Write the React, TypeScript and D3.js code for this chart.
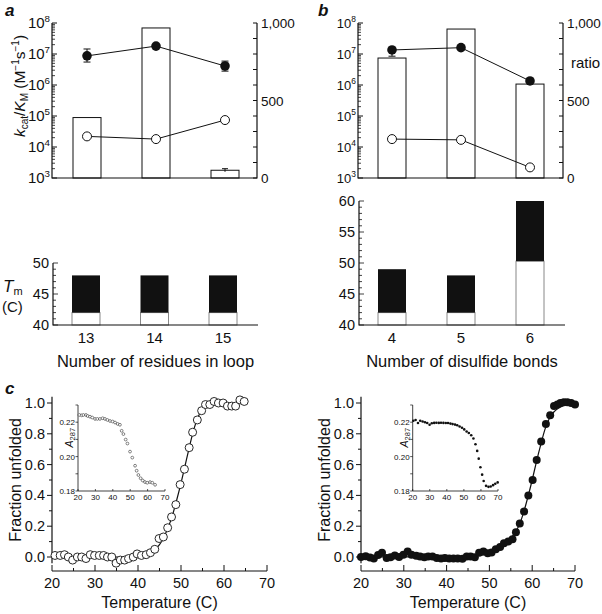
import React from "react";
import * as d3 from "d3";

const FONT = "'Liberation Sans', Arial, Helvetica, sans-serif";

// ---------- Panel a (loop length) ----------
const loopCategories = ["13", "14", "15"];
const loopRatio = [390, 968, 50];
const loopRatioErr = [0, 0, 10];
const loopKcatFilled = [8.7e6, 1.8e7, 4.1e6];
const loopKcatFilledLo = [5.5e6, 1.8e7, 2.8e6];
const loopKcatFilledHi = [1.45e7, 1.8e7, 5.9e6];
const loopKcatOpen = [2.2e4, 1.8e4, 7.4e4];
const loopTmLow = [42, 42, 42];
const loopTmHigh = [48, 48, 48];

// ---------- Panel b (disulfide bonds) ----------
const ssCategories = ["4", "5", "6"];
const ssRatio = [774, 961, 606];
const ssKcatFilled = [1.35e7, 1.6e7, 1.35e6];
const ssKcatFilledLo = [8.5e6, 1.6e7, 1.2e6];
const ssKcatFilledHi = [1.35e7, 1.6e7, 1.35e6];
const ssKcatOpen = [1.8e4, 1.7e4, 2.2e3];
const ssTmLow = [42, 42, 50.3];
const ssTmHigh = [49, 48, 60];

// ---------- Tick labels ----------
const logTickExps = [3, 4, 5, 6, 7, 8];
const ratioTickLabels = [0, 500, 1000];
const tmTicksA = [40, 45, 50];
const tmTicksB = [40, 45, 50, 55, 60];
const fracTicks = [0, 0.2, 0.4, 0.6, 0.8, 1.0];
const tempTicks = [20, 30, 40, 50, 60, 70];
const insetYTicks = [0.18, 0.2, 0.22];
const insetXTicks = [20, 30, 40, 50, 60, 70];

// ---------- Panel c, left (open circles) ----------
const leftTemp = [20.7, 21.9, 22.9, 23.8, 24.8, 25.9, 26.9, 27.9, 28.9, 29.9, 31.0, 32.0, 32.9, 33.9, 34.9, 35.9, 36.9, 37.8, 38.9, 39.8, 40.8, 41.9, 42.9, 43.9, 44.9, 45.9, 46.9, 47.8, 48.8, 49.8, 50.8, 51.9, 52.7, 53.8, 54.8, 55.7, 56.7, 57.7, 58.7, 59.8, 60.8, 61.8, 62.7, 63.7, 64.7];
const leftFrac = [0.01, 0.01, 0.015, 0.0, -0.02, 0.0, 0.0, -0.01, 0.015, 0.01, 0.01, 0.01, 0.0, 0.0, -0.04, -0.02, -0.02, -0.01, 0.0, 0.02, 0.01, 0.015, 0.028, 0.05, 0.12, 0.13, 0.19, 0.26, 0.34, 0.47, 0.57, 0.71, 0.81, 0.89, 0.95, 0.99, 0.99, 1.01, 1.0, 1.0, 0.98, 0.98, 0.98, 1.02, 1.01];
const leftFitTemp = [20, 38, 41, 43, 44, 45, 46, 47, 48, 49, 50, 51, 52, 53, 54, 55, 56, 57, 63.5];
const leftFitFrac = [0, 0, 0.01, 0.03, 0.05, 0.08, 0.13, 0.19, 0.27, 0.37, 0.48, 0.6, 0.72, 0.83, 0.91, 0.96, 0.985, 0.995, 1.0];
const leftInsetTemp = [20.8, 22.1, 23.1, 24.6, 25.6, 26.9, 28.2, 29.8, 31.1, 32.6, 34.2, 35.5, 36.9, 38.4, 39.9, 41.3, 42.8, 44.1, 45.1, 46.1, 47.4, 48.4, 49.9, 51.2, 52.8, 53.7, 54.7, 56.0, 57.2, 58.5, 59.8, 61.4, 62.7, 64.3];
const leftInsetA = [0.2242, 0.224, 0.2242, 0.2242, 0.2236, 0.2232, 0.2227, 0.2219, 0.2219, 0.2219, 0.2223, 0.2219, 0.2213, 0.2207, 0.2204, 0.2198, 0.219, 0.2185, 0.215, 0.2131, 0.2099, 0.2076, 0.2029, 0.1994, 0.1947, 0.1918, 0.1893, 0.1874, 0.1861, 0.1852, 0.1848, 0.1852, 0.1848, 0.1836];

// ---------- Panel c, right (filled circles) ----------
const rightTemp = [20.0, 21.1, 22.1, 23.0, 24.0, 24.9, 26.0, 26.9, 27.9, 28.9, 29.9, 30.9, 31.8, 32.9, 33.8, 34.8, 35.7, 36.7, 37.7, 38.7, 39.6, 40.6, 41.6, 42.6, 43.7, 44.7, 45.6, 46.6, 47.6, 48.6, 49.6, 50.5, 51.5, 52.5, 53.4, 54.4, 55.4, 56.2, 57.1, 58.1, 59.1, 60.1, 61.05, 62.1, 63.2, 64.2, 65.1, 65.9, 66.6, 67.4, 68.2, 69.1, 70.0];
const rightFrac = [0.0, 0.005, -0.003, -0.01, 0.013, 0.028, -0.006, -0.002, 0.01, 0.0, 0.015, 0.035, 0.015, 0.008, 0.004, -0.002, 0.004, 0.004, -0.006, -0.01, -0.006, -0.01, -0.01, -0.01, -0.012, 0.004, 0.004, -0.002, 0.028, 0.035, 0.024, 0.03, 0.05, 0.065, 0.09, 0.1, 0.115, 0.16, 0.218, 0.296, 0.4, 0.5, 0.63, 0.75, 0.864, 0.92, 0.98, 0.99, 1.0, 1.005, 1.005, 1.0, 0.99];
const rightFitTemp = [20, 45, 48, 50, 52, 54, 55, 56, 57, 58, 59, 60, 61, 62, 63, 64, 65, 66, 67, 68, 70];
const rightFitFrac = [0, 0.003, 0.012, 0.025, 0.05, 0.09, 0.12, 0.16, 0.21, 0.29, 0.39, 0.5, 0.62, 0.73, 0.83, 0.9, 0.94, 0.965, 0.98, 0.99, 0.995];
const rightInsetTemp = [20.4, 21.7, 23.1, 24.4, 25.8, 27.2, 28.5, 29.9, 31.2, 32.6, 33.9, 35.3, 36.6, 38.0, 39.4, 40.7, 42.1, 43.4, 44.8, 46.1, 47.5, 48.9, 50.2, 51.6, 52.9, 54.3, 55.6, 56.8, 57.8, 58.7, 59.7, 60.7, 61.6, 63.0, 64.4, 65.7, 67.1, 68.4, 69.8];
const rightInsetA = [0.2208, 0.2213, 0.2195, 0.2208, 0.2204, 0.22, 0.2195, 0.2185, 0.2194, 0.2196, 0.2197, 0.2196, 0.2197, 0.2196, 0.2195, 0.2195, 0.2192, 0.2189, 0.2186, 0.2182, 0.2175, 0.2168, 0.2158, 0.2146, 0.2137, 0.2124, 0.2105, 0.2072, 0.2033, 0.1988, 0.1938, 0.1895, 0.1858, 0.183, 0.1824, 0.1826, 0.1834, 0.1842, 0.185];

// ================= components =================
function TopPanel(p: any) {
  const { cats, ratio, ratioErr, filled, filledLo, filledHi, open, ax0, ax1, c0, c1, leftFont, rightFont } = p;
  const yLog = d3.scaleLog().domain([1e3, 1e8]).range([178, 23]);
  const yR = d3.scaleLinear().domain([0, 1000]).range([178, 23]);
  const x = d3.scalePoint<string>().domain(cats).range([c0, c1]);
  const bw = 28;
  const minor: number[] = [];
  for (let e = 3; e < 8; e++) for (let k = 2; k <= 9; k++) minor.push(k * Math.pow(10, e));
  const rTicks = d3.range(0, 1001, 100);
  const line = d3.line<[number, number]>();
  const fPts: [number, number][] = cats.map((c: string, i: number) => [x(c)!, yLog(filled[i])]);
  const oPts: [number, number][] = cats.map((c: string, i: number) => [x(c)!, yLog(open[i])]);
  return (
    <g>
      {cats.map((c: string, i: number) => (
        <g key={c}>
          <rect x={x(c)! - bw / 2} y={yR(ratio[i])} width={bw} height={yR(0) - yR(ratio[i])} fill="#fff" stroke="#111" strokeWidth={1} />
          {ratioErr[i] > 0 && (
            <g stroke="#111" strokeWidth={1}>
              <line x1={x(c)!} x2={x(c)!} y1={yR(ratio[i] + ratioErr[i])} y2={yR(ratio[i] - ratioErr[i])} />
              <line x1={x(c)! - 3} x2={x(c)! + 3} y1={yR(ratio[i] + ratioErr[i])} y2={yR(ratio[i] + ratioErr[i])} />
            </g>
          )}
        </g>
      ))}
      <path d={`M${ax0},23V178H${ax1}V23`} fill="none" stroke="#111" strokeWidth={1.2} />
      {minor.map((v) => (
        <line key={v} x1={ax0} x2={ax0 + 3} y1={yLog(v)} y2={yLog(v)} stroke="#111" strokeWidth={0.8} />
      ))}
      {logTickExps.map((e) => (
        <g key={e}>
          <line x1={ax0} x2={ax0 + 5} y1={yLog(Math.pow(10, e))} y2={yLog(Math.pow(10, e))} stroke="#111" strokeWidth={1} />
          <text x={ax0 - 2} y={yLog(Math.pow(10, e)) + 5} textAnchor="end" fontSize={leftFont} fill="#111">
            10<tspan dy={-6} fontSize={leftFont * 0.65}>{e}</tspan>
          </text>
        </g>
      ))}
      {rTicks.map((v) => (
        <line key={v} x1={ax1} x2={ax1 - 4} y1={yR(v)} y2={yR(v)} stroke="#111" strokeWidth={1} />
      ))}
      {ratioTickLabels.map((v) => (
        <text key={v} x={ax1 + 4} y={yR(v) + 5} fontSize={rightFont} fill="#111">
          {d3.format(",")(v)}
        </text>
      ))}
      {cats.map((c: string, i: number) =>
        filledHi[i] !== filledLo[i] ? (
          <g key={c} stroke="#111" strokeWidth={1}>
            <line x1={x(c)!} x2={x(c)!} y1={yLog(filledHi[i])} y2={yLog(filledLo[i])} />
            <line x1={x(c)! - 3.5} x2={x(c)! + 3.5} y1={yLog(filledHi[i])} y2={yLog(filledHi[i])} />
            <line x1={x(c)! - 3.5} x2={x(c)! + 3.5} y1={yLog(filledLo[i])} y2={yLog(filledLo[i])} />
          </g>
        ) : null
      )}
      <path d={line(fPts)!} fill="none" stroke="#111" strokeWidth={1} />
      <path d={line(oPts)!} fill="none" stroke="#111" strokeWidth={1} />
      {fPts.map((pt, i) => (
        <circle key={"f" + i} cx={pt[0]} cy={pt[1]} r={4.8} fill="#111" />
      ))}
      {oPts.map((pt, i) => (
        <circle key={"o" + i} cx={pt[0]} cy={pt[1]} r={4.5} fill="#fff" stroke="#111" strokeWidth={1} />
      ))}
    </g>
  );
}

function TmPanel(p: any) {
  const { cats, low, high, yMax, ticks, ax0, ax1, c0, c1, fontSize, title } = p;
  const y = d3.scaleLinear().domain([40, yMax]).range([325, 325 - (yMax - 40) * 6.2]);
  const x = d3.scalePoint<string>().domain(cats).range([c0, c1]);
  const bw = 28;
  const minor = d3.range(40, yMax + 0.01, 1);
  return (
    <g>
      {cats.map((c: string, i: number) => (
        <g key={c}>
          <rect x={x(c)! - bw / 2} y={y(low[i])} width={bw} height={y(40) - y(low[i])} fill="#fff" stroke="#888" strokeWidth={1} />
          <rect x={x(c)! - bw / 2} y={y(high[i])} width={bw} height={y(low[i]) - y(high[i])} fill="#111" />
          <text x={x(c)!} y={343} textAnchor="middle" fontSize={15} fill="#111">{c}</text>
        </g>
      ))}
      <path d={`M${ax0},${y(yMax)}V325H${ax1}`} fill="none" stroke="#111" strokeWidth={1.2} />
      {minor.map((v) => (
        <line key={v} x1={ax0} x2={ax0 + (v % 5 === 0 ? 5 : 3)} y1={y(v)} y2={y(v)} stroke="#111" strokeWidth={0.8} />
      ))}
      {ticks.map((v: number) => (
        <text key={v} x={ax0 - 4} y={y(v) + 5} textAnchor="end" fontSize={fontSize} fill="#111">{v}</text>
      ))}
      <text x={(ax0 + ax1) / 2} y={367} textAnchor="middle" fontSize={16.5} fill="#111">{title}</text>
    </g>
  );
}

function MeltPanel(p: any) {
  const { temp, frac, fitT, fitF, filledDots, ax0, ax1, inT, inA, in0, in1, inTop } = p;
  const x = d3.scaleLinear().domain([20, 70]).range([ax0, ax1]);
  const y = d3.scaleLinear().domain([0, 1]).range([557, 403]);
  const xi = d3.scaleLinear().domain([20, 70]).range([in0, in1]);
  const yi = d3.scaleLinear().domain([0.18, 0.2]).range([491, 456.6]);
  const fit = d3.line<number>().x((_, i) => x(fitT[i])).y((v) => y(v)).curve(d3.curveMonotoneX);
  const yMinor = d3.range(0, 1.01, 0.1);
  const xMinor = d3.range(20, 71, 5);
  return (
    <g>
      <line x1={ax0} x2={ax0} y1={y(1.04)} y2={y(-0.04)} stroke="#111" strokeWidth={1.2} />
      {yMinor.map((v, i) => (
        <line key={i} x1={ax0} x2={ax0 - (i % 2 === 0 ? 5 : 3)} y1={y(v)} y2={y(v)} stroke="#111" strokeWidth={1} />
      ))}
      {fracTicks.map((v) => (
        <text key={v} x={ax0 - 7} y={y(v) + 5} textAnchor="end" fontSize={14.5} fill="#111">{v.toFixed(1)}</text>
      ))}
      <line x1={ax0} x2={ax1} y1={571} y2={571} stroke="#111" strokeWidth={1.2} />
      {xMinor.map((v, i) => (
        <line key={v} x1={x(v)} x2={x(v)} y1={571} y2={571 - (i % 2 === 0 ? 6 : 3)} stroke="#111" strokeWidth={1} />
      ))}
      {tempTicks.map((v) => (
        <text key={v} x={x(v)} y={588} textAnchor="middle" fontSize={14.5} fill="#111">{v}</text>
      ))}
      <text x={(ax0 + ax1) / 2} y={608} textAnchor="middle" fontSize={16} fill="#111">Temperature (C)</text>
      <text transform={`translate(${ax0 - 31},${y(0.5)}) rotate(-90)`} textAnchor="middle" fontSize={16} fill="#111">Fraction unfolded</text>
      <path d={fit(fitF)!} fill="none" stroke="#111" strokeWidth={1.2} />
      {temp.map((t: number, i: number) =>
        filledDots ? (
          <circle key={i} cx={x(t)} cy={y(frac[i])} r={4} fill="#111" />
        ) : (
          <circle key={i} cx={x(t)} cy={y(frac[i])} r={4} fill="#fff" stroke="#111" strokeWidth={0.9} />
        )
      )}
      <path d={`M${in0},${inTop}V491H${in1}`} fill="none" stroke="#111" strokeWidth={0.8} />
      {d3.range(0.18, 0.2301, 0.01).map((v, i) => (
        <line key={i} x1={in0} x2={in0 - 2.5} y1={yi(v)} y2={yi(v)} stroke="#111" strokeWidth={0.7} />
      ))}
      {insetYTicks.map((v) => (
        <text key={v} x={in0 - 3} y={yi(v) + 3} textAnchor="end" fontSize={8} fill="#111">{v.toFixed(2)}</text>
      ))}
      {insetXTicks.map((v) => (
        <g key={v}>
          <line x1={xi(v)} x2={xi(v)} y1={491} y2={489} stroke="#111" strokeWidth={0.7} />
          <text x={xi(v)} y={499.5} textAnchor="middle" fontSize={8} fill="#111">{v}</text>
        </g>
      ))}
      <text transform={`translate(${in0 - 5},${yi(0.211)}) rotate(-90)`} textAnchor="middle" fontSize={10.5} fill="#111">
        <tspan fontStyle="italic">A</tspan>
        <tspan fontSize={7.5} dy={2}>287</tspan>
      </text>
      {inT.map((t: number, i: number) =>
        filledDots ? (
          <circle key={i} cx={xi(t)} cy={yi(inA[i])} r={1.3} fill="#111" />
        ) : (
          <circle key={i} cx={xi(t)} cy={yi(inA[i])} r={1.4} fill="#fff" stroke="#111" strokeWidth={0.5} />
        )
      )}
    </g>
  );
}

export default function App() {
  return (
    <svg width={602} height={614} style={{ position: "absolute", left: 0, top: 0, background: "#fff" }} fontFamily={FONT}>
      <rect width={602} height={614} fill="#fff" />
      <text x={5} y={16} fontSize={17} fontWeight="bold" fontStyle="italic" fill="#111">a</text>
      <text x={318} y={16} fontSize={17} fontWeight="bold" fontStyle="italic" fill="#111">b</text>
      <text x={5} y={394} fontSize={17} fontWeight="bold" fontStyle="italic" fill="#111">c</text>

      <TopPanel cats={loopCategories} ratio={loopRatio} ratioErr={loopRatioErr} filled={loopKcatFilled} filledLo={loopKcatFilledLo} filledHi={loopKcatFilledHi} open={loopKcatOpen} ax0={52} ax1={257} c0={87} c1={225} leftFont={15} rightFont={13.5} />
      <TopPanel cats={ssCategories} ratio={ssRatio} ratioErr={[0, 0, 0]} filled={ssKcatFilled} filledLo={ssKcatFilledLo} filledHi={ssKcatFilledHi} open={ssKcatOpen} ax0={358} ax1={563} c0={392} c1={530} leftFont={13} rightFont={13.5} />
      <text x={571} y={68} fontSize={15} fill="#111">ratio</text>

      <text transform="translate(25,86) rotate(-90)" textAnchor="middle" fontSize={15.5} fill="#111">
        <tspan fontStyle="italic">k</tspan>
        <tspan fontSize={10} dy={3}>cat</tspan>
        <tspan dy={-3}>/</tspan>
        <tspan fontStyle="italic">K</tspan>
        <tspan fontSize={10} dy={3}>M</tspan>
        <tspan dy={-3}> (M</tspan>
        <tspan fontSize={10} dy={-6}>−1</tspan>
        <tspan dy={6}>s</tspan>
        <tspan fontSize={10} dy={-6}>−1</tspan>
        <tspan dy={6}>)</tspan>
      </text>

      <TmPanel cats={loopCategories} low={loopTmLow} high={loopTmHigh} yMax={50} ticks={tmTicksA} ax0={53} ax1={258} c0={86} c1={223} fontSize={14.5} title="Number of residues in loop" />
      <TmPanel cats={ssCategories} low={ssTmLow} high={ssTmHigh} yMax={60} ticks={tmTicksB} ax0={359} ax1={565} c0={392} c1={530} fontSize={14.5} title="Number of disulfide bonds" />
      <text x={3} y={292} fontSize={17} fill="#111">
        <tspan fontStyle="italic">T</tspan>
        <tspan fontSize={11} dy={3}>m</tspan>
      </text>
      <text x={2} y={312} fontSize={15} fill="#111">(C)</text>

      <MeltPanel temp={leftTemp} frac={leftFrac} fitT={leftFitTemp} fitF={leftFitFrac} filledDots={false} ax0={52} ax1={267} inT={leftInsetTemp} inA={leftInsetA} in0={78} in1={165} inTop={405} />
      <MeltPanel temp={rightTemp} frac={rightFrac} fitT={rightFitTemp} fitF={rightFitFrac} filledDots={true} ax0={361} ax1={575} inT={rightInsetTemp} inA={rightInsetA} in0={412.7} in1={498} inTop={405} />
    </svg>
  );
}
